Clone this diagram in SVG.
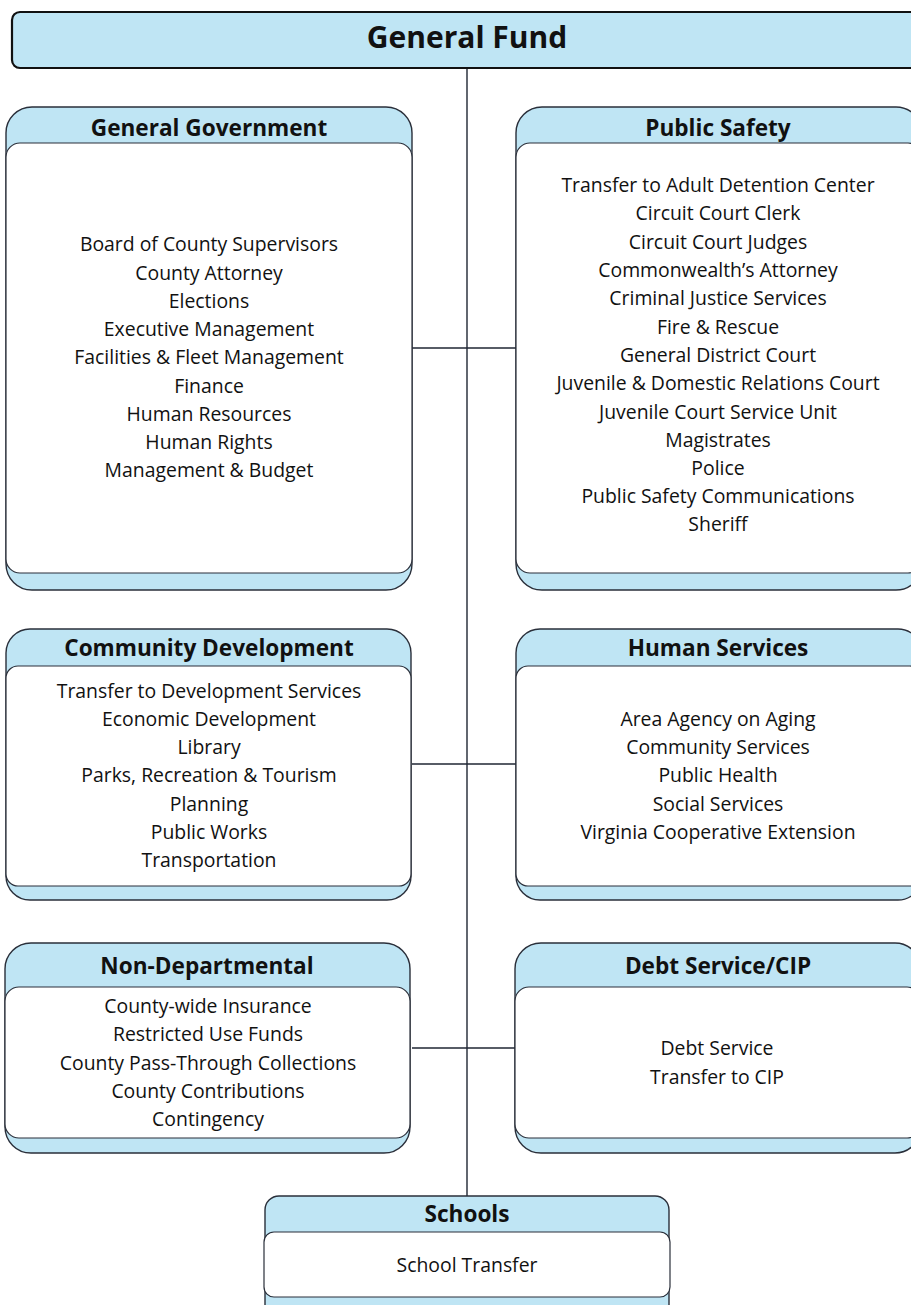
<svg xmlns="http://www.w3.org/2000/svg" width="911" height="1305" viewBox="0 0 911 1305">
<style>
.outer{fill:#bfe5f4;stroke:#2a2f3a;stroke-width:1.4}
.inner{fill:#ffffff;stroke:#2a2f3a;stroke-width:1.2}
.hd{font-family:"Open Sans","Liberation Sans",sans-serif;font-weight:bold;font-size:22.6px;fill:#111;text-anchor:middle}
.it{font-family:"Open Sans","Liberation Sans",sans-serif;font-size:19.4px;fill:#111;text-anchor:middle}
.ln{stroke:#1f2633;stroke-width:1.4;fill:none}
</style>
<rect width="911" height="1305" fill="#ffffff"/>
<g id="connectors">
<line class="ln" x1="467" y1="68" x2="467" y2="1197"/>
<line class="ln" x1="412" y1="348" x2="517" y2="348"/>
<line class="ln" x1="412" y1="764" x2="517" y2="764"/>
<line class="ln" x1="412" y1="1048" x2="517" y2="1048"/>
</g>
<g id="general-fund">
<rect x="12" y="12" width="920" height="56" rx="8" fill="#bfe5f4" stroke="#111" stroke-width="2.2"/>
<text x="467" y="48" font-family="'Open Sans','Liberation Sans',sans-serif" font-weight="bold" font-size="30" text-anchor="middle" fill="#111">General Fund</text>
</g>
<g id="general-government">
<rect class="outer" x="6" y="107" width="406" height="483" rx="26"/>
<rect class="inner" x="6" y="143" width="406" height="430" rx="14"/>
<text class="hd" x="209" y="136">General Government</text>
<text class="it" x="209" y="251">Board of County Supervisors</text>
<text class="it" x="209" y="280">County Attorney</text>
<text class="it" x="209" y="308">Elections</text>
<text class="it" x="209" y="336">Executive Management</text>
<text class="it" x="209" y="364">Facilities &amp; Fleet Management</text>
<text class="it" x="209" y="393">Finance</text>
<text class="it" x="209" y="421">Human Resources</text>
<text class="it" x="209" y="449">Human Rights</text>
<text class="it" x="209" y="477">Management &amp; Budget</text>
</g>
<g id="public-safety">
<rect class="outer" x="516" y="107" width="406" height="483" rx="26"/>
<rect class="inner" x="516" y="143" width="406" height="430" rx="14"/>
<text class="hd" x="718" y="136">Public Safety</text>
<text class="it" x="718" y="192">Transfer to Adult Detention Center</text>
<text class="it" x="718" y="220">Circuit Court Clerk</text>
<text class="it" x="718" y="249">Circuit Court Judges</text>
<text class="it" x="718" y="277">Commonwealth’s Attorney</text>
<text class="it" x="718" y="305">Criminal Justice Services</text>
<text class="it" x="718" y="334">Fire &amp; Rescue</text>
<text class="it" x="718" y="362">General District Court</text>
<text class="it" x="718" y="390">Juvenile &amp; Domestic Relations Court</text>
<text class="it" x="718" y="419">Juvenile Court Service Unit</text>
<text class="it" x="718" y="447">Magistrates</text>
<text class="it" x="718" y="475">Police</text>
<text class="it" x="718" y="503">Public Safety Communications</text>
<text class="it" x="718" y="531">Sheriff</text>
</g>
<g id="community-development">
<rect class="outer" x="6" y="629" width="405" height="271" rx="24"/>
<rect class="inner" x="6" y="666" width="405" height="220" rx="12"/>
<text class="hd" x="209" y="656">Community Development</text>
<text class="it" x="209" y="698">Transfer to Development Services</text>
<text class="it" x="209" y="726">Economic Development</text>
<text class="it" x="209" y="754">Library</text>
<text class="it" x="209" y="782">Parks, Recreation &amp; Tourism</text>
<text class="it" x="209" y="811">Planning</text>
<text class="it" x="209" y="839">Public Works</text>
<text class="it" x="209" y="867">Transportation</text>
</g>
<g id="human-services">
<rect class="outer" x="516" y="629" width="406" height="271" rx="24"/>
<rect class="inner" x="516" y="666" width="406" height="220" rx="12"/>
<text class="hd" x="718" y="656">Human Services</text>
<text class="it" x="718" y="726">Area Agency on Aging</text>
<text class="it" x="718" y="754">Community Services</text>
<text class="it" x="718" y="782">Public Health</text>
<text class="it" x="718" y="811">Social Services</text>
<text class="it" x="718" y="839">Virginia Cooperative Extension</text>
</g>
<g id="non-departmental">
<rect class="outer" x="5" y="943" width="405" height="210" rx="26"/>
<rect class="inner" x="5" y="987" width="405" height="151" rx="14"/>
<text class="hd" x="207" y="974">Non-Departmental</text>
<text class="it" x="208" y="1013">County-wide Insurance</text>
<text class="it" x="208" y="1041">Restricted Use Funds</text>
<text class="it" x="208" y="1070">County Pass-Through Collections</text>
<text class="it" x="208" y="1098">County Contributions</text>
<text class="it" x="208" y="1126">Contingency</text>
</g>
<g id="debt-service">
<rect class="outer" x="515" y="943" width="406" height="210" rx="26"/>
<rect class="inner" x="515" y="987" width="406" height="151" rx="14"/>
<text class="hd" x="718" y="974">Debt Service/CIP</text>
<text class="it" x="717" y="1055">Debt Service</text>
<text class="it" x="717" y="1084">Transfer to CIP</text>
</g>
<g id="schools">
<rect class="outer" x="265" y="1196" width="404" height="130" rx="14"/>
<rect class="inner" x="264" y="1232" width="406" height="65" rx="10"/>
<text class="hd" x="467" y="1222">Schools</text>
<text class="it" x="467" y="1272">School Transfer</text>
</g>
</svg>
